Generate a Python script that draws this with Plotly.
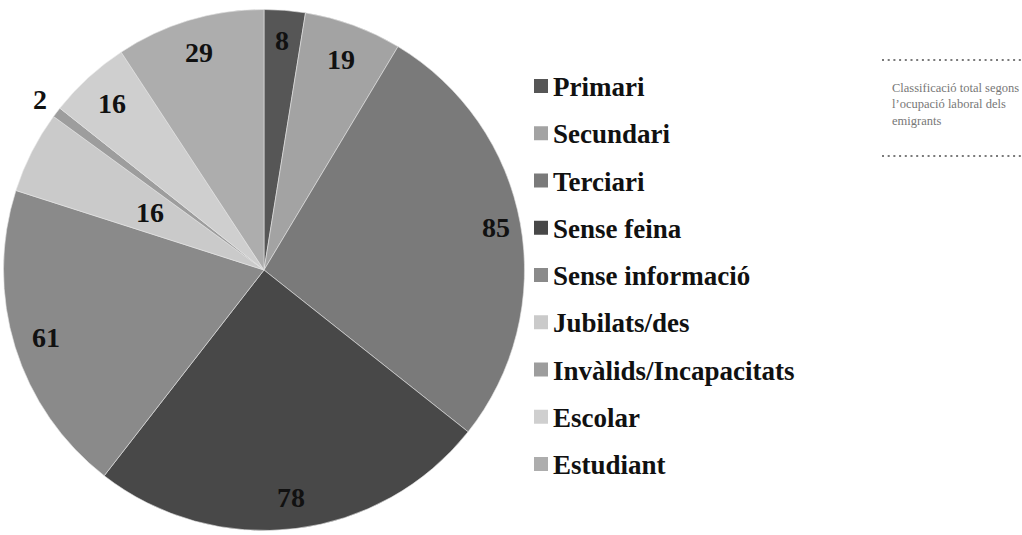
import math
import plotly.graph_objects as go

# Occupational classification of emigrants
categories = ["Primari", "Secundari", "Terciari", "Sense feina", "Sense informació",
              "Jubilats/des", "Invàlids/Incapacitats", "Escolar", "Estudiant"]
values = [8, 19, 85, 78, 61, 16, 2, 16, 29]
colors = ["#565656", "#a3a3a3", "#7a7a7a", "#484848", "#8a8a8a",
          "#cacaca", "#9d9d9d", "#cfcfcf", "#adadad"]

# radial placement of each value label, as a fraction of the pie radius
label_radius = [0.885, 0.86, 0.905, 0.88, 0.875, 0.49, 1.08, 0.865, 0.87]

caption = "Classificació total segons<br>l’ocupació laboral dels<br>emigrants"

SERIF = "Liberation Serif, Times New Roman, DejaVu Serif, serif"

W, H = 1022, 535
CX, CY, R = 264.0, 270.0, 260.5  # pie centre and radius in pixels

fig = go.Figure()
fig.add_trace(go.Pie(
    labels=categories,
    values=values,
    sort=False,
    direction="clockwise",
    rotation=0,
    marker=dict(colors=colors, line=dict(color="#e6e6e6", width=0.6)),
    textinfo="none",
    hoverinfo="label+value",
    showlegend=False,
    domain=dict(x=[(CX - R) / W, (CX + R) / W],
                y=[1 - (CY + R) / H, 1 - (CY - R) / H]),
))

annotations = []
shapes = []

# value labels placed at the middle angle of each slice
total = sum(values)
cum = 0
for v, rf in zip(values, label_radius):
    mid = (cum + v / 2) / total * 2 * math.pi
    cum += v
    px = CX + rf * R * math.sin(mid)
    py = CY - rf * R * math.cos(mid)
    annotations.append(dict(
        x=px / W, y=1 - py / H, xref="paper", yref="paper",
        text=f"<b>{v}</b>", showarrow=False,
        font=dict(family=SERIF, size=28, color="#111111"),
        xanchor="center", yanchor="middle",
    ))

# legend drawn as colour squares with bold labels
LEG_Y0, LEG_DY = 86.0, 47.25
for i, (name, col) in enumerate(zip(categories, colors)):
    yc = LEG_Y0 + i * LEG_DY
    shapes.append(dict(
        type="rect", xref="paper", yref="paper",
        x0=534 / W, x1=548 / W, y0=1 - (yc + 7) / H, y1=1 - (yc - 7) / H,
        fillcolor=col, line=dict(width=0),
    ))
    annotations.append(dict(
        x=551 / W, y=1 - (yc + 1) / H, xref="paper", yref="paper",
        text=f"<b>{name}</b>", showarrow=False,
        font=dict(family=SERIF, size=27, color="#111111"),
        xanchor="left", yanchor="middle",
    ))

# caption block with dotted rules
for yl in (60, 156):
    shapes.append(dict(
        type="line", xref="paper", yref="paper",
        x0=882 / W, x1=1022 / W, y0=1 - yl / H, y1=1 - yl / H,
        line=dict(color="#7a7a7a", width=2, dash="2px,3.7px"),
    ))
annotations.append(dict(
    x=890 / W, y=1 - 104 / H, xref="paper", yref="paper",
    text=caption, showarrow=False, align="left",
    font=dict(family=SERIF, size=12.5, color="#777777"),
    xanchor="left", yanchor="middle",
))

fig.update_layout(
    width=W, height=H,
    margin=dict(l=0, r=0, t=0, b=0),
    paper_bgcolor="white", plot_bgcolor="white",
    annotations=annotations, shapes=shapes,
)

fig.write_html("out.html")
